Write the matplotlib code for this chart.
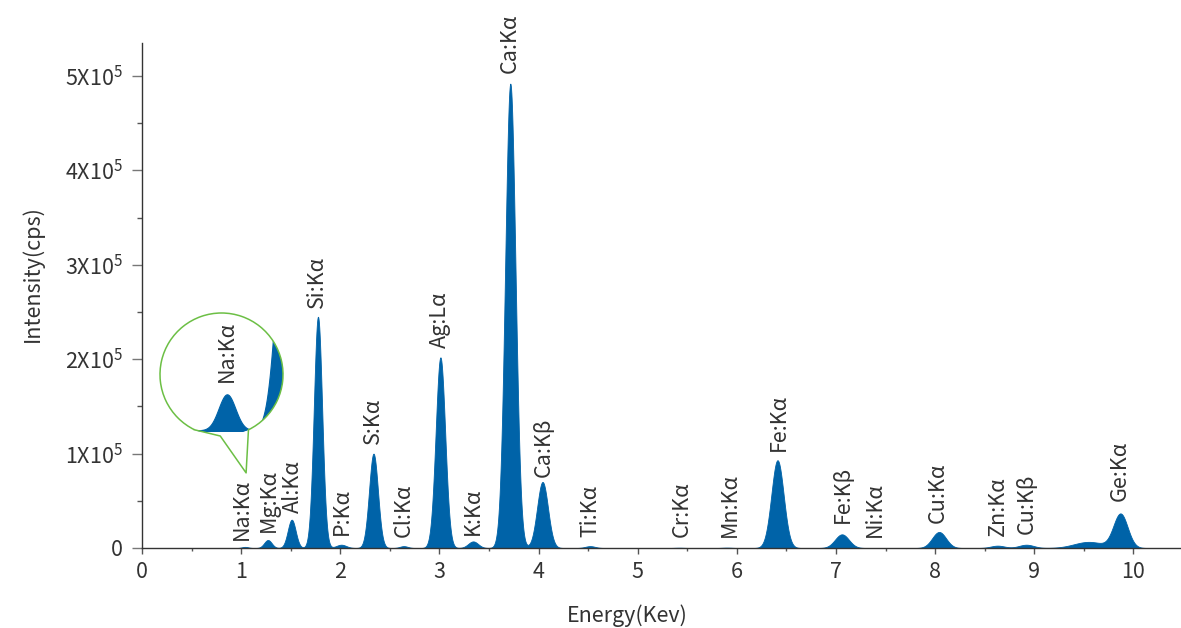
import numpy as np
import matplotlib
matplotlib.use("Agg")
import matplotlib.pyplot as plt
from matplotlib.patches import Circle, Arc
from matplotlib.ticker import MultipleLocator, FixedLocator, FixedFormatter

plt.rcParams['font.family'] = ['Noto Sans CJK SC', 'DejaVu Sans']
plt.rcParams['mathtext.fontset'] = 'custom'
plt.rcParams['mathtext.rm'] = 'Noto Sans CJK SC'
plt.rcParams['mathtext.it'] = 'Noto Sans CJK SC'
plt.rcParams['mathtext.default'] = 'regular'

# ---- peaks (keV, cps, sigma keV) ----
peak_kev = [1.04, 1.27, 1.51, 1.775, 2.01, 2.335, 2.64, 3.01, 3.34, 3.715,
            4.04, 4.52, 5.42, 5.90, 6.41, 7.06, 8.04, 8.63, 8.92, 9.55, 9.87]
peak_cps = [1200, 8500, 30000, 245000, 3500, 100000, 2000, 202000, 7000, 492000,
            70000, 2000, 300, 400, 93000, 14500, 17000, 2500, 3500, 6500, 36000]
peak_sig = [0.032, 0.038, 0.040, 0.042, 0.05, 0.045, 0.04, 0.048, 0.05, 0.052,
            0.055, 0.05, 0.05, 0.05, 0.062, 0.07, 0.07, 0.07, 0.075, 0.15, 0.072]

# ---- line labels (text, keV, label base in cps) ----
lab_txt = ['Na:Kα', 'Mg:Kα', 'Al:Kα', 'Si:Kα', 'P:Kα', 'S:Kα', 'Cl:Kα', 'Ag:Lα',
           'K:Kα', 'Ca:Kα', 'Ca:Kβ', 'Ti:Kα', 'Cr:Kα', 'Mn:Kα', 'Fe:Kα', 'Fe:Kβ',
           'Ni:Kα', 'Cu:Kα', 'Zn:Kα', 'Cu:Kβ', 'Ge:Kα']
lab_kev = [1.01, 1.28, 1.52, 1.76, 2.02, 2.33, 2.64, 3.00, 3.34, 3.71, 4.05, 4.52,
           5.44, 5.93, 6.42, 7.07, 7.39, 8.03, 8.63, 8.92, 9.86]
lab_cps = [8000, 17000, 37000, 254000, 14000, 110000, 12000, 212000, 14000, 503000,
           75000, 12000, 12000, 12000, 103000, 27000, 12000, 27000, 12500, 14500, 50000]

ytick_vals = [0, 1e5, 2e5, 3e5, 4e5, 5e5]
ytick_labs = ['0', '1X10$^{5}$', '2X10$^{5}$', '3X10$^{5}$', '4X10$^{5}$', '5X10$^{5}$']

BLUE = '#0063a8'
GREEN = '#6cbf45'
TXT = '#333333'
FS = 15.5


def spectrum(x):
    y = np.zeros_like(x)
    for c, h, s in zip(peak_kev, peak_cps, peak_sig):
        y += h * np.exp(-0.5 * ((x - c) / s) ** 2)
    return y


fig = plt.figure(figsize=(11.81, 6.28), dpi=100)
ax = fig.add_axes([142 / 1181, 80 / 628, 1039 / 1181, 505 / 628])

x = np.linspace(0, 10.5, 4000)
y = spectrum(x)
ax.fill_between(x, 0, y, color=BLUE, lw=0.6, zorder=2)

ax.set_xlim(0, 10.48)
ax.set_ylim(0, 5.35e5)

for s in ['top', 'right']:
    ax.spines[s].set_visible(False)
for s in ['left', 'bottom']:
    ax.spines[s].set_color(TXT)
    ax.spines[s].set_linewidth(1.0)

ax.xaxis.set_major_locator(MultipleLocator(1))
ax.xaxis.set_minor_locator(MultipleLocator(0.5))
ax.yaxis.set_major_locator(FixedLocator(ytick_vals))
ax.yaxis.set_major_formatter(FixedFormatter(ytick_labs))
ax.yaxis.set_minor_locator(MultipleLocator(0.5e5))
ax.tick_params(axis='x', which='major', length=4.5, width=1, color='#555555',
               labelsize=FS, labelcolor=TXT, pad=5)
ax.tick_params(axis='x', which='minor', length=2.3, width=1, color='#555555')
ax.tick_params(axis='y', which='major', length=7, width=1, color='#777777',
               labelsize=FS, labelcolor=TXT, pad=7)
ax.tick_params(axis='y', which='minor', length=3.5, width=1, color='#555555')

ax.set_xlabel('Energy(Kev)', fontsize=FS, color=TXT, va='center')
ax.set_ylabel('Intensity(cps)', fontsize=FS, color=TXT, va='center')
ax.xaxis.set_label_coords(0.467, -0.135)
ax.yaxis.set_label_coords(-0.105, 0.543)

for t, kx, ky in zip(lab_txt, lab_kev, lab_cps):
    ax.text(kx, ky, t, rotation=90, ha='center', va='bottom', fontsize=FS,
            color=TXT, zorder=3)

# ---- magnified circle around Na:Ka ----
ins = fig.add_axes([160 / 1181, 192 / 628, 123 / 1181, 123 / 628])
ins.set_axis_off()
ins.set_xlim(0.784, 1.254)
ins.set_ylim(-190, 3910)
xi = np.linspace(0.78, 1.26, 600)
clip = Circle((0.5, 0.5), 0.5, transform=ins.transAxes, facecolor='none', edgecolor='none')
ins.add_patch(clip)
poly = ins.fill_between(xi, 0, spectrum(xi), color=BLUE, lw=0.8)
poly.set_clip_path(clip)
ins.text(1.04, 1600, 'Na:Kα', rotation=90, ha='center', va='bottom', fontsize=FS, color=TXT)

a1, a2 = 296, 244 + 360
ins.add_patch(Arc((0.5, 0.5), 1.0, 1.0, theta1=a1, theta2=a2, transform=ins.transAxes,
                  color=GREEN, lw=1.1, clip_on=False))
pl = (0.5 + 0.5 * np.cos(np.radians(244)), 0.5 + 0.5 * np.sin(np.radians(244)))
pr = (0.5 + 0.5 * np.cos(np.radians(296)), 0.5 + 0.5 * np.sin(np.radians(296)))
ins.plot([pl[0], 0.49, 0.70, pr[0]], [pl[1], 0.0, -0.30, pr[1]], color=GREEN, lw=1.1,
         transform=ins.transAxes, clip_on=False)

fig.savefig('out.png', dpi=100)
